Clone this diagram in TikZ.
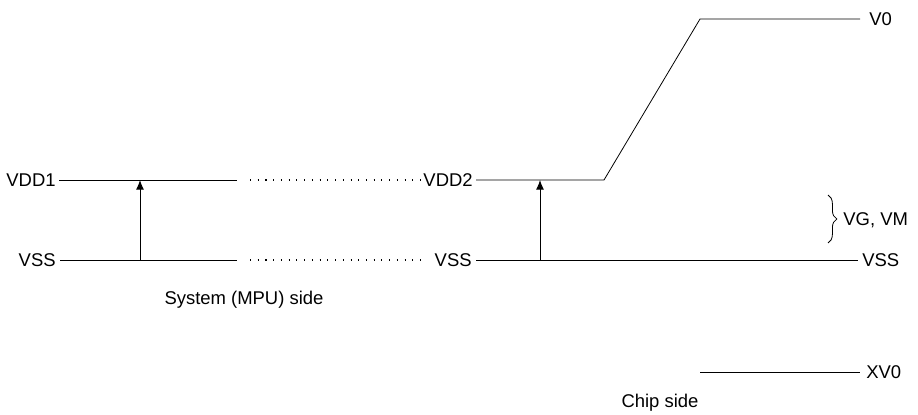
\documentclass[tikz,border=0pt]{standalone}
\usepackage{fontspec}
\setmainfont{Liberation Sans}
\usetikzlibrary{arrows.meta, decorations.pathreplacing}

\begin{document}
\begin{tikzpicture}[x=0.02cm, y=-0.02cm,
        level/.style={draw=black, line width=0.45pt},
        gap/.style={draw=black, line width=0.6pt, dash pattern=on 0.6pt off 3.8pt},
        lab/.style={inner sep=0pt, font=\fontsize{10.5}{12}\selectfont},
        lift/.style={draw=black, line width=0.5pt, -{Latex[length=5.5pt, width=4.5pt]}}
    ]
        \useasboundingbox (0,0) rectangle (918,415);
        % system side
        \node (vdd_one) at (56,180) [lab, anchor=east] {VDD1};
        \node (vss_sys) at (56,260) [lab, anchor=east] {VSS};
        \coordinate (vdd_sys_end) at (237,180);
        \coordinate (vss_sys_end) at (237,260);
        \coordinate (vdd_dot_start) at (250,180);
        \coordinate (vss_dot_start) at (250,260);
        \draw[level] (vdd_one.east) ++(3,0) -- (vdd_sys_end);
        \draw[level] (vss_sys.east) ++(4,0) -- (vss_sys_end);
        \draw[lift] (140,260) coordinate (lift_sys_foot) -- (140,180) coordinate (lift_sys_head);
        \node (system) at (244,300) [lab] {System (MPU) side};
        % chip side
        \node (vdd_two) at (473,180) [lab, anchor=east] {VDD2};
        \node (vss_chip) at (472,260) [lab, anchor=east] {VSS};
        \draw[gap] (vdd_dot_start) -- (vdd_two.west);
        \draw[gap] (vss_dot_start) -- (422,260);
        \node (v_zero) at (869,19) [lab, anchor=west] {V0};
        \node (vss_out) at (862,260) [lab, anchor=west] {VSS};
        \node (xv_zero) at (866,372) [lab, anchor=west] {XV0};
        \coordinate (ramp_foot) at (604,180);
        \coordinate (ramp_top) at (700,19);
        \draw[level] (vdd_two.east) ++(3,0) -- (ramp_foot) -- (ramp_top) -- (860,19);
        \draw[level] (vss_chip.east) ++(4,0) -- (858,260);
        \draw[level] (700,372) coordinate (xv_start) -- (860,372);
        \draw[lift] (540,260) coordinate (lift_chip_foot) -- (540,180) coordinate (lift_chip_head);
        \draw[level, decorate, decoration={brace, amplitude=5pt}] (828,195) coordinate (brace_top) -- (828,243) coordinate (brace_bot);
        \node (vg_vm) at (843,220) [lab, anchor=west] {VG, VM};
        \node (chip) at (660,403) [lab] {Chip side};
    \end{tikzpicture}
\end{document}
